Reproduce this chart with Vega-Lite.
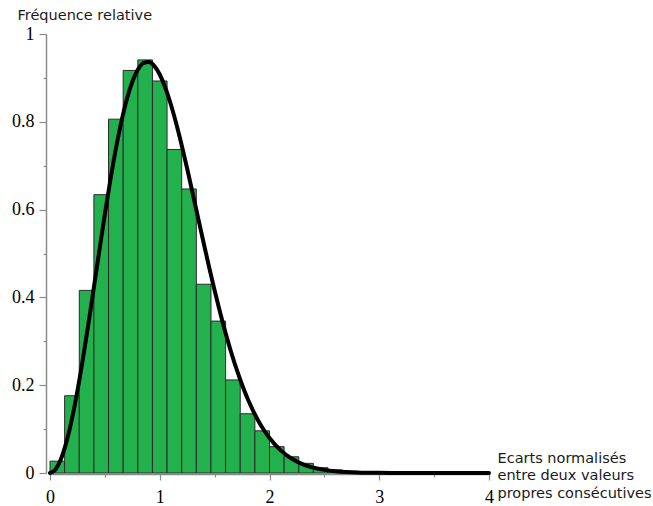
{
  "$schema": "https://vega.github.io/schema/vega-lite/v6.json",
  "autosize": "none",
  "width": 439,
  "height": 439,
  "padding": {"left": 50, "top": 34, "right": 164, "bottom": 33},
  "background": "white",
  "config": {"view": {"stroke": null}},
  "datasets": {
    "bars": [
      {"x0": 0.0, "x1": 0.1333, "f": 0.027},
      {"x0": 0.1333, "x1": 0.2667, "f": 0.176},
      {"x0": 0.2667, "x1": 0.4, "f": 0.416},
      {"x0": 0.4, "x1": 0.5333, "f": 0.634},
      {"x0": 0.5333, "x1": 0.6667, "f": 0.806},
      {"x0": 0.6667, "x1": 0.8, "f": 0.917},
      {"x0": 0.8, "x1": 0.9333, "f": 0.941},
      {"x0": 0.9333, "x1": 1.0667, "f": 0.893},
      {"x0": 1.0667, "x1": 1.2, "f": 0.737},
      {"x0": 1.2, "x1": 1.3333, "f": 0.647},
      {"x0": 1.3333, "x1": 1.4667, "f": 0.43},
      {"x0": 1.4667, "x1": 1.6, "f": 0.346},
      {"x0": 1.6, "x1": 1.7333, "f": 0.212},
      {"x0": 1.7333, "x1": 1.8667, "f": 0.135},
      {"x0": 1.8667, "x1": 2.0, "f": 0.096},
      {"x0": 2.0, "x1": 2.1333, "f": 0.06},
      {"x0": 2.1333, "x1": 2.2667, "f": 0.037},
      {"x0": 2.2667, "x1": 2.4, "f": 0.022},
      {"x0": 2.4, "x1": 2.5333, "f": 0.012},
      {"x0": 2.5333, "x1": 2.6667, "f": 0.007},
      {"x0": 2.6667, "x1": 2.8, "f": 0.004},
      {"x0": 2.8, "x1": 2.9333, "f": 0.002},
      {"x0": 2.9333, "x1": 3.0667, "f": 0.001},
      {"x0": 3.0667, "x1": 3.2, "f": 0.001},
      {"x0": 3.2, "x1": 3.3333, "f": 0.0005},
      {"x0": 3.3333, "x1": 3.4667, "f": 0.0},
      {"x0": 3.4667, "x1": 3.6, "f": 0.002},
      {"x0": 3.6, "x1": 3.7333, "f": 0.002},
      {"x0": 3.7333, "x1": 3.8667, "f": 0.001},
      {"x0": 3.8667, "x1": 4.0, "f": 0.001}
    ],
    "curve": [
      {"s": 0.0, "p": 0.0},
      {"s": 0.05, "p": 0.0081},
      {"s": 0.1, "p": 0.032},
      {"s": 0.15, "p": 0.0709},
      {"s": 0.2, "p": 0.1233},
      {"s": 0.25, "p": 0.1871},
      {"s": 0.3, "p": 0.2602},
      {"s": 0.35, "p": 0.3398},
      {"s": 0.4, "p": 0.4232},
      {"s": 0.45, "p": 0.5073},
      {"s": 0.5, "p": 0.5896},
      {"s": 0.55, "p": 0.6673},
      {"s": 0.6, "p": 0.7381},
      {"s": 0.65, "p": 0.7999},
      {"s": 0.7, "p": 0.8514},
      {"s": 0.75, "p": 0.8912},
      {"s": 0.8, "p": 0.9186},
      {"s": 0.85, "p": 0.9337},
      {"s": 0.9, "p": 0.9363},
      {"s": 0.95, "p": 0.9274},
      {"s": 1.0, "p": 0.9077},
      {"s": 1.05, "p": 0.8782},
      {"s": 1.1, "p": 0.8405},
      {"s": 1.15, "p": 0.7961},
      {"s": 1.2, "p": 0.7465},
      {"s": 1.25, "p": 0.6929},
      {"s": 1.3, "p": 0.6371},
      {"s": 1.35, "p": 0.5805},
      {"s": 1.4, "p": 0.524},
      {"s": 1.45, "p": 0.4688},
      {"s": 1.5, "p": 0.4158},
      {"s": 1.55, "p": 0.3656},
      {"s": 1.6, "p": 0.3187},
      {"s": 1.65, "p": 0.2757},
      {"s": 1.7, "p": 0.2364},
      {"s": 1.75, "p": 0.2012},
      {"s": 1.8, "p": 0.1698},
      {"s": 1.85, "p": 0.1422},
      {"s": 1.9, "p": 0.1181},
      {"s": 1.95, "p": 0.0974},
      {"s": 2.0, "p": 0.0796},
      {"s": 2.1, "p": 0.0521},
      {"s": 2.2, "p": 0.0331},
      {"s": 2.3, "p": 0.0204},
      {"s": 2.4, "p": 0.0122},
      {"s": 2.5, "p": 0.0071},
      {"s": 2.6, "p": 0.004},
      {"s": 2.7, "p": 0.0022},
      {"s": 2.8, "p": 0.0012},
      {"s": 3.0, "p": 0.0003},
      {"s": 3.2, "p": 0.0001},
      {"s": 3.5, "p": 0.0},
      {"s": 4.0, "p": 0.0}
    ]
  },
  "layer": [
    {
      "data": {"name": "bars"},
      "mark": {"type": "rect", "fill": "#22b14c", "stroke": "#2b2b2b", "strokeWidth": 1},
      "encoding": {
        "x": {
          "field": "x0", "type": "quantitative",
          "scale": {"domain": [0, 4], "nice": false, "zero": false},
          "axis": {
            "values": [0, 0.5, 1, 1.5, 2, 2.5, 3, 3.5, 4],
            "format": "~g",
            "labelExpr": "datum.value % 1 == 0 ? datum.label : ''",
            "grid": false,
            "offset": 1,
            "domainColor": "#8a8a8a",
            "domainWidth": 1.5,
            "tickColor": "#8a8a8a",
            "tickWidth": 1.2,
            "tickSize": {"condition": {"test": "datum.value % 1 != 0", "value": 3}, "value": 6},
            "labelFont": "Liberation Serif",
            "labelFontSize": 18,
            "labelColor": "#000000",
            "labelBaseline": "alphabetic",
            "labelPadding": 22,
            "labelFlush": false,
            "labelOverlap": false,
            "title": ["Ecarts normalisés", "entre deux valeurs", "propres consécutives"],
            "titleFont": "DejaVu Sans",
            "titleFontSize": 14.5,
            "titleFontWeight": "normal",
            "titleColor": "#1a1a1a",
            "titleAlign": "left",
            "titleAnchor": "start",
            "titleBaseline": "alphabetic",
            "titleLineHeight": 17.5,
            "titleX": 447,
            "titleY": -12
          }
        },
        "x2": {"field": "x1"},
        "y": {
          "field": "f", "type": "quantitative",
          "scale": {"domain": [0, 1], "nice": false},
          "axis": {
            "values": [0, 0.1, 0.2, 0.3, 0.4, 0.5, 0.6, 0.7, 0.8, 0.9, 1],
            "format": "~g",
            "labelExpr": "round(datum.value * 10) % 2 == 0 ? datum.label : ''",
            "grid": false,
            "offset": 4,
            "domainColor": "#8a8a8a",
            "domainWidth": 1.5,
            "tickColor": "#8a8a8a",
            "tickWidth": 1.2,
            "tickSize": {"condition": {"test": "round(datum.value * 10) % 2 != 0", "value": 3}, "value": 7},
            "labelFont": "Liberation Serif",
            "labelFontSize": 18,
            "labelColor": "#000000",
            "labelPadding": 5,
            "labelFlush": false,
            "labelOverlap": false,
            "title": "Fréquence relative",
            "titleFont": "DejaVu Sans",
            "titleFontSize": 14.5,
            "titleFontWeight": "normal",
            "titleColor": "#1a1a1a",
            "titleAngle": 0,
            "titleAlign": "left",
            "titleAnchor": "start",
            "titleBaseline": "alphabetic",
            "titleX": -29,
            "titleY": -15
          }
        },
        "y2": {"datum": 0}
      }
    },
    {
      "data": {"name": "curve"},
      "mark": {"type": "line", "color": "#000000", "strokeWidth": 4, "interpolate": "monotone", "strokeCap": "round"},
      "encoding": {
        "x": {"field": "s", "type": "quantitative"},
        "y": {"field": "p", "type": "quantitative"}
      }
    }
  ]
}
